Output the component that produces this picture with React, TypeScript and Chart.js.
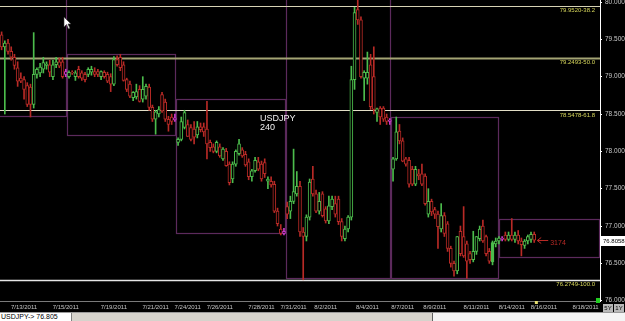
import React, { useEffect, useRef } from 'react';
import { Chart, registerables } from 'chart.js';
Chart.register(...registerables);

const SLOT_COUNT = 187;

const opens = [
  79.56, 79.40, 79.45, 79.34, 79.26, 79.12, 78.98, 78.96, 78.88, 78.86,
  78.63, 79.03, 79.05, 79.10, 79.15, 79.16, 79.00, 79.16, 79.20, 79.20,
  79.03, 79.00, 79.06, 79.00, 79.10, 79.05, 79.03, 79.03, 79.06, 79.07,
  79.07, 79.00, 79.06, 79.03, 79.00, 78.90, 79.23, 79.26, 79.16, 78.96,
  78.90, 78.72, 78.73, 78.83, 78.70, 78.74, 78.86, 78.59, 78.43, 78.50,
  78.76, 78.66, 78.43, 78.46, 78.45, 78.12, 78.16, 78.32, 78.36, 78.32,
  78.30, 78.22, 78.33, 78.33, 78.30, 78.12, 78.06, 78.00, 78.06, 77.90,
  78.00, 77.83, 77.63, 77.83, 77.97, 78.02, 77.96, 77.86, 77.66, 77.74,
  77.86, 77.83, 77.85, 77.60, 77.60, 77.56, 77.20, 76.96, 76.93, 77.26,
  77.20, 77.33, 77.43, 77.53, 76.92, 76.86, 77.12, 77.63, 77.43, 77.20,
  77.43, 77.23, 77.07, 77.26, 77.30, 77.36, 77.06, 76.83, 76.96, 77.12,
  78.96, 79.90, 79.76, 78.98, 78.98, 79.16, 79.00, 78.52, 78.58, 78.58,
  78.46, 78.40, 77.76, 77.90, 78.27, 78.14, 77.90, 77.88, 77.76, 77.56,
  77.70, 77.70, 77.67, 77.16, 77.33, 77.22, 77.16, 76.96, 77.14, 77.03,
  76.70, 76.50, 76.40, 76.93, 76.86, 76.76, 76.63, 76.55, 76.66, 76.83,
  77.00, 76.86, 76.66, 76.52, 76.76, 76.80, 76.82, 76.88, 76.82, 76.88,
  76.82, 76.88, 76.80, 76.74, 76.80, 76.82, 76.89,
];
const highs = [
  79.60, 79.48, 79.50, 79.40, 79.30, 79.20, 79.05, 79.00, 78.92, 78.90,
  79.59, 79.12, 79.18, 79.26, 79.20, 79.22, 79.22, 79.26, 79.25, 79.26,
  79.10, 79.08, 79.08, 79.08, 79.14, 79.08, 79.06, 79.12, 79.14, 79.12,
  79.10, 79.08, 79.08, 79.06, 79.04, 79.27, 79.28, 79.30, 79.20, 78.98,
  78.94, 78.80, 78.90, 78.88, 79.00, 78.90, 78.90, 78.62, 78.55, 78.60,
  78.79, 78.70, 78.47, 78.50, 78.50, 78.18, 78.46, 78.55, 78.42, 78.36,
  78.40, 78.40, 78.38, 78.38, 78.67, 78.15, 78.10, 78.14, 78.10, 78.05,
  78.04, 77.86, 77.86, 78.02, 78.16, 78.05, 78.00, 77.90, 77.76, 77.92,
  77.92, 77.87, 77.90, 77.66, 77.66, 77.60, 77.24, 77.02, 76.97, 77.32,
  77.40, 78.03, 77.73, 77.60, 76.98, 77.15, 77.63, 77.80, 77.48, 77.45,
  77.46, 77.26, 77.40, 77.40, 77.40, 77.40, 77.10, 77.00, 77.14, 79.14,
  79.93, 80.25, 79.80, 79.08, 79.33, 79.30, 79.40, 78.58, 78.60, 78.60,
  78.50, 78.44, 77.92, 78.46, 78.36, 78.18, 77.92, 77.92, 77.80, 77.80,
  77.76, 77.83, 77.70, 77.50, 77.36, 77.25, 77.20, 77.30, 77.18, 77.06,
  76.73, 76.53, 76.86, 77.00, 77.26, 76.80, 76.66, 76.93, 76.86, 77.00,
  77.08, 76.88, 76.70, 76.80, 76.84, 76.86, 76.86, 76.92, 76.92, 77.10,
  76.92, 76.94, 76.84, 76.82, 76.88, 76.92, 76.92,
];
const lows = [
  79.36, 78.50, 79.30, 79.22, 79.10, 78.87, 78.92, 78.70, 78.60, 78.46,
  78.58, 78.98, 79.00, 79.05, 79.10, 79.00, 78.96, 79.12, 79.12, 78.98,
  79.00, 78.98, 79.03, 78.95, 78.98, 78.95, 78.93, 79.00, 79.02, 79.00,
  79.00, 78.96, 78.98, 78.92, 78.80, 78.88, 79.14, 79.08, 78.94, 78.80,
  78.72, 78.68, 78.70, 78.66, 78.66, 78.70, 78.55, 78.40, 78.23, 78.46,
  78.52, 78.40, 78.27, 78.36, 78.40, 78.08, 78.14, 78.30, 78.20, 78.14,
  78.10, 78.18, 78.26, 78.20, 77.90, 78.00, 77.98, 77.98, 77.92, 77.88,
  77.80, 77.55, 77.58, 77.80, 77.95, 77.92, 77.80, 77.62, 77.60, 77.72,
  77.74, 77.60, 77.65, 77.50, 77.52, 77.18, 77.00, 76.88, 76.88, 77.10,
  77.10, 77.30, 77.40, 76.86, 76.28, 76.80, 77.08, 77.40, 77.18, 77.16,
  77.12, 77.04, 77.03, 77.22, 77.12, 77.02, 76.80, 76.80, 76.92, 77.08,
  78.83, 79.70, 78.98, 78.68, 78.90, 78.56, 78.50, 78.40, 78.36, 78.40,
  78.36, 78.36, 77.60, 77.88, 78.10, 77.86, 77.80, 77.52, 77.54, 77.54,
  77.62, 77.54, 77.28, 77.12, 77.14, 77.10, 76.70, 76.92, 76.86, 76.66,
  76.45, 76.33, 76.36, 76.60, 76.58, 76.30, 76.50, 76.52, 76.62, 76.80,
  76.78, 76.60, 76.50, 76.48, 76.72, 76.76, 76.80, 76.80, 76.80, 76.80,
  76.78, 76.76, 76.60, 76.70, 76.76, 76.78, 76.78,
];
const closes = [
  79.40, 79.45, 79.34, 79.26, 79.15, 78.94, 78.94, 78.83, 78.63, 78.63,
  79.03, 79.10, 79.13, 79.19, 79.17, 79.06, 79.16, 79.20, 79.14, 79.00,
  79.07, 79.06, 79.05, 79.05, 79.00, 78.98, 78.96, 79.10, 79.10, 79.03,
  79.03, 79.07, 79.00, 78.94, 78.90, 79.23, 79.16, 79.12, 78.95, 78.83,
  78.74, 78.79, 78.80, 78.67, 78.83, 78.87, 78.59, 78.43, 78.53, 78.56,
  78.54, 78.43, 78.36, 78.40, 78.42, 78.16, 78.40, 78.52, 78.20, 78.16,
  78.19, 78.33, 78.29, 78.26, 78.10, 78.05, 78.00, 78.12, 77.94, 78.03,
  77.81, 77.58, 77.83, 78.00, 78.10, 77.94, 77.82, 77.66, 77.74, 77.88,
  77.76, 77.63, 77.70, 77.63, 77.55, 77.20, 77.03, 76.90, 76.90, 77.16,
  77.33, 77.46, 77.53, 76.92, 76.86, 77.12, 77.59, 77.43, 77.20, 77.33,
  77.14, 77.07, 77.27, 77.36, 77.16, 77.06, 76.86, 76.96, 77.12, 78.96,
  79.86, 79.76, 79.00, 79.06, 79.06, 78.60, 78.56, 78.57, 78.46, 78.43,
  78.40, 78.42, 77.90, 78.26, 78.14, 77.87, 77.83, 77.56, 77.56, 77.76,
  77.67, 77.56, 77.30, 77.33, 77.19, 77.16, 76.99, 77.14, 76.90, 76.70,
  76.50, 76.40, 76.86, 76.63, 76.60, 76.53, 76.55, 76.66, 76.86, 76.96,
  76.80, 76.63, 76.53, 76.78, 76.80, 76.84, 76.84, 76.82, 76.88, 76.82,
  76.88, 76.80, 76.75, 76.80, 76.86, 76.89, 76.81,
];
const markerIdx = [20, 54, 88, 121, 156];
const filledIdx = [153];

const dateLabels = ['7/13/2011', '7/15/2011', '7/19/2011', '7/21/2011', '7/24/2011', '7/26/2011', '7/28/2011', '7/31/2011', '8/2/2011', '8/4/2011', '8/7/2011', '8/9/2011', '8/11/2011', '8/14/2011', '8/16/2011', '8/18/2011'];
const dateSlots = [7, 20, 35, 48, 58, 68, 81, 91, 101, 114, 125, 135, 148, 159, 169, 182];
const yTickValues = [76, 76.5, 77, 77.5, 78, 78.5, 79, 79.5, 80];

const fibPrices = [79.952, 79.2493, 78.5478, 76.2749];
const fibPcts = ['38.2', '50.0', '61.8', '100.0'];
const fibColors = ['#d6d2b4', '#a4a474', '#e2dec6', '#e6e6e6'];
const fibWidths = [1, 2, 1, 1.5];

const boxStarts = [-6, 21, 55, 89, 122, 155.5];
const boxEnds = [21, 55, 89, 122, 155.5, 187];
const boxHighs = [80.4, 79.31, 78.70, 80.4, 78.46, 77.10];
const boxLows = [78.47, 78.22, 76.90, 76.30, 76.31, 76.59];

const lastQuote = 76.8058;
const statusText = 'USDJPY-> 76.805';
const symbolText = 'USDJPY';
const periodText = '240';
const arrowText = '3174';

const GREEN = '#4cbc4c';
const RED = '#b82a26';
const MAGENTA = '#c838c8';
const FONT = '"Liberation Sans", Arial, sans-serif';

const labels = Array.from({ length: SLOT_COUNT }, (_, i) => {
  const k = dateSlots.indexOf(i);
  return k >= 0 ? dateLabels[k] : '';
});

const overlay = {
  id: 'overlay',
  beforeDraw(chart: any) {
    const { ctx, width, height } = chart;
    ctx.save();
    ctx.fillStyle = '#000';
    ctx.fillRect(0, 0, width, height);
    ctx.restore();
  },
  beforeDatasetsDraw(chart: any) {
    const { ctx, chartArea: ca, scales } = chart;
    const xs = scales.x, ys = scales.y;
    ctx.save();
    ctx.beginPath();
    ctx.rect(ca.left, ca.top, ca.right - ca.left, ca.bottom - ca.top);
    ctx.clip();
    ctx.strokeStyle = '#5c2a5c';
    ctx.lineWidth = 1.2;
    for (let i = 0; i < boxStarts.length; i++) {
      const x0 = Math.round(xs.getPixelForValue(boxStarts[i] - 0.5)) + 0.5;
      const x1 = Math.round(xs.getPixelForValue(boxEnds[i] - 0.5)) - 0.5;
      const y0 = Math.round(ys.getPixelForValue(boxHighs[i])) + 0.5;
      const y1 = Math.round(ys.getPixelForValue(boxLows[i])) + 0.5;
      ctx.strokeRect(x0, y0, x1 - x0, y1 - y0);
    }
    for (let i = 0; i < fibPrices.length; i++) {
      const yy = Math.round(ys.getPixelForValue(fibPrices[i])) + 0.5;
      ctx.strokeStyle = fibColors[i];
      ctx.lineWidth = fibWidths[i];
      ctx.beginPath();
      ctx.moveTo(ca.left, yy);
      ctx.lineTo(ca.right, yy);
      ctx.stroke();
    }
    ctx.restore();
  },
  afterDraw(chart: any) {
    const { ctx, chartArea: ca, scales, width } = chart;
    const xs = scales.x, ys = scales.y;
    ctx.save();
    // fib labels
    ctx.font = `6px ${FONT}`;
    ctx.fillStyle = '#d8d85c';
    ctx.textAlign = 'right';
    ctx.textBaseline = 'top';
    for (let i = 0; i < fibPrices.length; i++) {
      const yy = ys.getPixelForValue(fibPrices[i]);
      ctx.fillText(`${fibPrices[i].toFixed(4)}-${fibPcts[i]}`, ca.right - 5, yy + 1.5);
    }
    // symbol / period
    ctx.font = `9px ${FONT}`;
    ctx.fillStyle = '#f0f0f0';
    ctx.textAlign = 'left';
    ctx.fillText(symbolText, 260, 114);
    ctx.fillText(periodText, 260, 123);
    // arrow to last close
    const lastY = Math.round(ys.getPixelForValue(closes[closes.length - 1])) + 0.5;
    const ax = xs.getPixelForValue(closes.length - 1) + 3;
    ctx.strokeStyle = RED;
    ctx.lineWidth = 1;
    ctx.beginPath();
    ctx.moveTo(ax + 11, lastY);
    ctx.lineTo(ax, lastY);
    ctx.moveTo(ax + 4, lastY - 3);
    ctx.lineTo(ax, lastY);
    ctx.lineTo(ax + 4, lastY + 3);
    ctx.stroke();
    ctx.font = `7px ${FONT}`;
    ctx.fillStyle = RED;
    ctx.textBaseline = 'middle';
    ctx.fillText(arrowText, ax + 13, lastY + 3);
    // current price label on axis
    const py = Math.round(ys.getPixelForValue(lastQuote));
    ctx.fillStyle = '#ffffff';
    ctx.fillRect(ca.right + 1, py - 5, width - ca.right - 1, 10);
    ctx.fillStyle = '#000';
    ctx.font = `6px ${FONT}`;
    ctx.fillText(lastQuote.toFixed(4), ca.right + 3, py + 0.5);
    // small markers near bottom
    ctx.fillStyle = '#22cc22';
    ctx.fillRect(ca.right - 4, ca.bottom - 3, 4, 5);
    ctx.fillStyle = '#e8e070';
    ctx.fillRect(xs.getPixelForValue(169) - 9, ca.bottom, 3, 3);
    // 5Y / 1Y buttons
    ctx.font = `6px ${FONT}`;
    ctx.textAlign = 'center';
    const btns = ['5Y', '1Y'];
    for (let i = 0; i < btns.length; i++) {
      const bx = ca.right + 3 + i * 11;
      ctx.fillStyle = '#b8b8b8';
      ctx.fillRect(bx, ca.bottom + 3, 10, 8);
      ctx.fillStyle = '#000';
      ctx.fillText(btns[i], bx + 5, ca.bottom + 7.5);
    }
    // mouse cursor
    ctx.beginPath();
    ctx.moveTo(64, 17);
    ctx.lineTo(64, 27);
    ctx.lineTo(66.5, 24.5);
    ctx.lineTo(68.5, 29);
    ctx.lineTo(70, 28.3);
    ctx.lineTo(68, 24);
    ctx.lineTo(71, 24);
    ctx.closePath();
    ctx.fillStyle = '#ffffff';
    ctx.fill();
    ctx.strokeStyle = '#333';
    ctx.lineWidth = 0.6;
    ctx.stroke();
    ctx.restore();
  },
};

export default function App() {
  const ref = useRef<HTMLCanvasElement | null>(null);
  useEffect(() => {
    if (!ref.current) return;
    const n = opens.length;
    const colorFor = (i: number) =>
      markerIdx.includes(i) ? MAGENTA : closes[i] >= opens[i] ? GREEN : RED;
    const wickData = Array.from({ length: n }, (_, i) => [lows[i], highs[i]]);
    const bodyData = Array.from({ length: n }, (_, i) => [opens[i], closes[i]]);
    const colors = Array.from({ length: n }, (_, i) => colorFor(i));
    const fills = Array.from({ length: n }, (_, i) => (filledIdx.includes(i) ? colors[i] : '#000000'));

    const chart = new Chart(ref.current, {
      type: 'bar',
      data: {
        labels,
        datasets: [
          {
            label: 'wick',
            data: wickData as any,
            backgroundColor: colors,
            borderWidth: 0,
            barThickness: 1,
            grouped: false,
            order: 2,
          } as any,
          {
            label: 'body',
            data: bodyData as any,
            backgroundColor: fills,
            borderColor: colors,
            borderWidth: 1,
            borderSkipped: false,
            barThickness: 3,
            grouped: false,
            order: 1,
          } as any,
        ],
      },
      options: {
        animation: false,
        responsive: false,
        events: [],
        layout: { padding: 0 },
        plugins: { legend: { display: false }, tooltip: { enabled: false } },
        scales: {
          x: {
            type: 'category',
            offset: true,
            grid: { display: false, drawTicks: false },
            border: { display: true, color: '#7a7a7a', width: 1 },
            ticks: {
              autoSkip: false,
              maxRotation: 0,
              minRotation: 0,
              color: '#c4c4c4',
              font: { size: 6, family: FONT },
              padding: 3,
            },
            afterFit: (s: any) => {
              s.height = 11;
              s.paddingLeft = 0;
              s.paddingRight = 0;
            },
          },
          y: {
            type: 'linear',
            position: 'right',
            min: 75.996,
            max: 80.027,
            afterBuildTicks: (s: any) => {
              s.ticks = yTickValues.map((v) => ({ value: v }));
            },
            grid: { drawOnChartArea: false, drawTicks: true, tickLength: 2, color: '#ffffff' },
            border: { display: true, color: '#ffffff', width: 1 },
            ticks: {
              color: '#c8c8c8',
              font: { size: 6.5, family: FONT },
              padding: 3,
              callback: (v: any) => Number(v).toFixed(4),
            },
            afterFit: (s: any) => {
              s.width = 25;
              s.paddingTop = 0;
              s.paddingBottom = 0;
            },
          },
        },
      },
      plugins: [overlay],
    });
    return () => chart.destroy();
  }, []);

  return (
    <div style={{ position: 'fixed', left: 0, top: 0, width: 625, height: 321, background: '#000', overflow: 'hidden' }}>
      <canvas ref={ref} width={625} height={312} style={{ display: 'block', width: 625, height: 312 }} />
      <div style={{ position: 'absolute', left: 0, top: 312, width: 625, height: 9, background: '#d6d3cc', borderTop: '1px solid #9a9a9a', boxSizing: 'border-box' }}>
        <div style={{ position: 'absolute', left: 0, top: 0, width: 72, height: 8, background: '#ffffff', borderRight: '1px solid #808080', font: `7px ${FONT}`, lineHeight: '8px', color: '#000', paddingLeft: 1, whiteSpace: 'nowrap', overflow: 'hidden', boxSizing: 'border-box' }}>
          {statusText}
        </div>
        <div style={{ position: 'absolute', left: 432, top: 0, width: 193, height: 8, background: '#f4f4f4', borderLeft: '1px solid #606060', boxSizing: 'border-box' }} />
      </div>
    </div>
  );
}
